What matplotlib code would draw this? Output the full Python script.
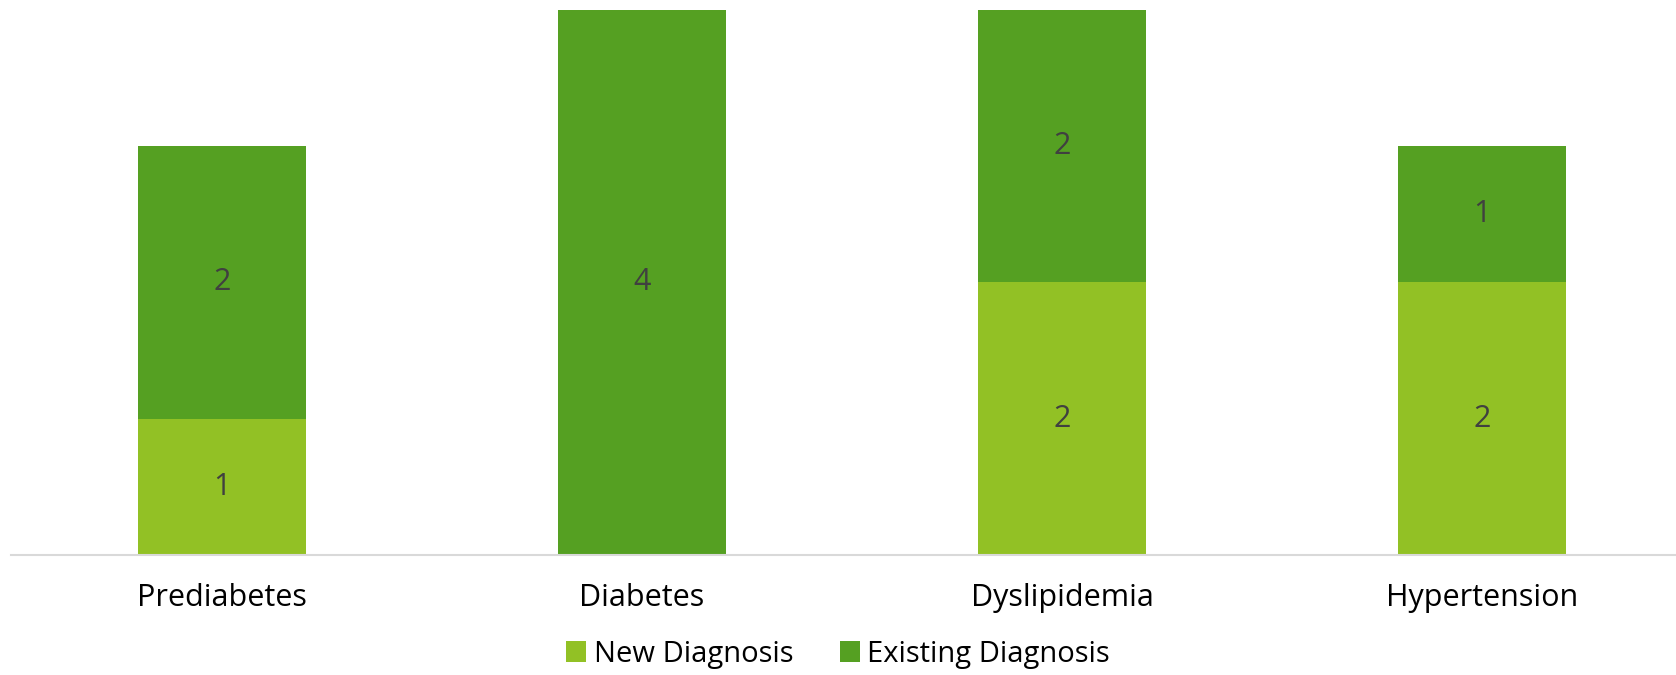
import matplotlib
matplotlib.use("Agg")
from matplotlib import pyplot as plt
import numpy as np

plt.rcParams['font.family'] = ['Open Sans', 'DejaVu Sans']

categories = ['Prediabetes', 'Diabetes', 'Dyslipidemia', 'Hypertension']
new_diagnosis = [1, 0, 2, 2]
existing_diagnosis = [2, 4, 2, 1]

new_color = '#92C125'
existing_color = '#55A022'

fig = plt.figure(figsize=(16.76, 6.75), dpi=100)
ax = fig.add_axes([0.0066, 0.178, 0.9934, 0.807])

x = np.arange(len(categories))
bars_new = ax.bar(x, new_diagnosis, width=0.4, color=new_color, label='New Diagnosis')
bars_old = ax.bar(x, existing_diagnosis, width=0.4, bottom=new_diagnosis,
                  color=existing_color, label='Existing Diagnosis')

# labels in the middle of each segment, skip empty ones
for bars, vals in [(bars_new, new_diagnosis), (bars_old, existing_diagnosis)]:
    for b, v in zip(bars, vals):
        if v == 0:
            continue
        ax.text(b.get_x() + b.get_width() / 2, b.get_y() + b.get_height() / 2, str(v),
                ha='center', va='center', fontsize=22, color='#404040')

ax.set_xlim(-0.502, 3.462)
ax.set_ylim(0, 4)
ax.set_xticks(x)
ax.set_xticklabels(categories, fontsize=22)
ax.tick_params(axis='x', length=0, pad=20)
ax.set_yticks([])
for s in ['top', 'right', 'left']:
    ax.spines[s].set_visible(False)
ax.spines['bottom'].set_color('#D9D9D9')
ax.spines['bottom'].set_linewidth(1.5)

fig.legend(loc='center', bbox_to_anchor=(0.5, 0.031), ncol=2, frameon=False,
           fontsize=21, handlelength=0.7, handleheight=0.7, handletextpad=0.25,
           columnspacing=1.6)

fig.savefig('out.png', dpi=100)
